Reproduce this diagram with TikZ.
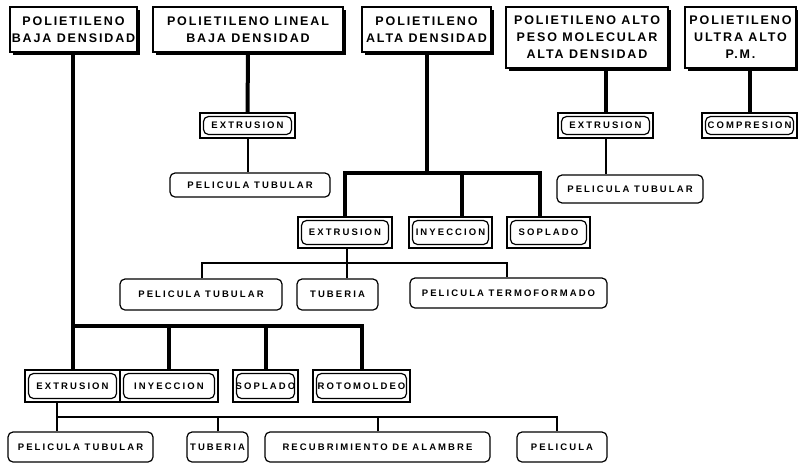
\documentclass[tikz,border=0pt]{standalone}
\usepackage{fontspec}
\usetikzlibrary{shapes,shadows,positioning}
\newfontfamily\headfont[LetterSpace=15]{Liberation Sans}
\newfontfamily\procfont[LetterSpace=22]{Liberation Sans}

\begin{document}
\begin{tikzpicture}[x=1pt, y=-1pt]
	\tikzstyle{resin} = [rectangle, draw, line width=1.2pt, fill=white, inner xsep=0pt, inner ysep=2pt, align=center, font=\headfont\bfseries\fontsize{12.5}{17}\selectfont, drop shadow={shadow xshift=3pt, shadow yshift=-3pt, opacity=1, fill=black}]
	\tikzstyle{proc} = [rectangle, draw, line width=1.2pt, inner sep=1pt, font=\procfont\bfseries\fontsize{9.5}{11}\selectfont, path picture={\draw[line width=1.2pt, rounded corners=5pt] ([shift={(3.5pt,3.5pt)}]path picture bounding box.south west) rectangle ([shift={(-3.5pt,-3.5pt)}]path picture bounding box.north east);}]
	\tikzstyle{prod} = [rectangle, draw, line width=1.2pt, rounded corners=5pt, inner sep=1pt, font=\procfont\bfseries\fontsize{9.5}{11}\selectfont]
	\tikzstyle{trunk} = [line width=4pt]
	\tikzstyle{branch} = [line width=2pt]
	\useasboundingbox (0,0) rectangle (798,464);
	
	\node[resin, minimum width=127, minimum height=45] (LDPE) at (73.5, 29.5) {POLIETILENO\\BAJA DENSIDAD};
	\node[resin, minimum width=190, minimum height=45] (LLDPE) at (248, 29.5) {POLIETILENO LINEAL\\BAJA DENSIDAD};
	\node[resin, minimum width=129, minimum height=45] (HDPE) at (426.5, 29.5) {POLIETILENO\\ALTA DENSIDAD};
	\node[resin, minimum width=162, minimum height=61] (HMW) at (587, 37.5) {POLIETILENO ALTO\\PESO MOLECULAR\\ALTA DENSIDAD};
	\node[resin, minimum width=111, minimum height=61] (UHMW) at (740.5, 37.5) {POLIETILENO\\ULTRA ALTO\\P.M.};
	
	\node[proc, minimum width=95, minimum height=25] (E2) at (247.5, 125.5) {EXTRUSION};
	\node[prod, minimum width=160, minimum height=24] (E2PT) at (250, 185) {PELICULA TUBULAR};
	
	\node[proc, minimum width=95, minimum height=25] (E4) at (605.5, 125.5) {EXTRUSION};
	\node[prod, minimum width=146, minimum height=28] (E4PT) at (630, 189) {PELICULA TUBULAR};
	\node[proc, minimum width=95, minimum height=25] (C5) at (749.5, 125.5) {COMPRESION};
	
	\node[proc, minimum width=94, minimum height=31] (E3) at (345, 232.5) {EXTRUSION};
	\node[proc, minimum width=83, minimum height=31] (I3) at (450.5, 232.5) {INYECCION};
	\node[proc, minimum width=83, minimum height=31] (S3) at (548.5, 232.5) {SOPLADO};
	\node[prod, minimum width=162, minimum height=31] (E3PT) at (201, 294.5) {PELICULA TUBULAR};
	\node[prod, minimum width=81, minimum height=31] (E3TU) at (337.5, 294.5) {TUBERIA};
	\node[prod, minimum width=197, minimum height=30] (E3TF) at (508.5, 293) {PELICULA TERMOFORMADO};
	
	\node[proc, minimum width=95, minimum height=32] (E1) at (72.5, 386) {EXTRUSION};
	\node[proc, minimum width=98, minimum height=32] (I1) at (169, 386) {INYECCION};
	\node[proc, minimum width=65, minimum height=32] (S1) at (265.5, 386) {SOPLADO};
	\node[proc, minimum width=97, minimum height=32] (R1) at (361.5, 386) {ROTOMOLDEO};
	\node[prod, minimum width=145, minimum height=30] (E1PT) at (80.5, 447) {PELICULA TUBULAR};
	\node[prod, minimum width=61, minimum height=30] (E1TU) at (217.5, 447) {TUBERIA};
	\node[prod, minimum width=225, minimum height=30] (E1RA) at (377.5, 447) {RECUBRIMIENTO DE ALAMBRE};
	\node[prod, minimum width=90, minimum height=30] (E1PE) at (562, 447) {PELICULA};
	
	\coordinate (busA) at (72.5, 326);
	\coordinate (busB) at (345, 173);
	\coordinate (busBI) at (462, 173);
	\coordinate (busBS) at (540, 173);
	\coordinate (busC) at (202, 263);
	\coordinate (busCT) at (347, 263);
	\coordinate (busCF) at (507, 263);
	\coordinate (busD) at (57, 417);
	\coordinate (busDP) at (557, 417);
	
	\draw[trunk] (E1.north) -- (E1.north |- LDPE.south);
	\draw[trunk] (busA) -| (R1.north);
	\draw[trunk] (I1.north) -- (I1.north |- busA);
	\draw[trunk] (S1.north) -- (S1.north |- busA);
	
	\draw[trunk] (LLDPE.south) -- (E2.north);
	\draw[branch] (E2.south) -- (E2.south |- E2PT.north);
	
	\draw[trunk] (HDPE.south) -- (HDPE.south |- busB);
	\draw[trunk] (E3.north) -- (busB) -- (busBS) -- (busBS |- S3.north);
	\draw[trunk] (busBI) -- (busBI |- I3.north);
	\draw[branch] (busCT |- E3.south) -- (busCT |- E3TU.north);
	\draw[branch] (busC |- E3PT.north) -- (busC) -- (busCF) -- (busCF |- E3TF.north);
	
	\draw[trunk] (E4.north) -- (E4.north |- HMW.south);
	\draw[branch] (E4.south) -- (E4.south |- E4PT.north);
	\draw[trunk] (C5.north) -- (C5.north |- UHMW.south);
	
	\draw[branch] (busD |- E1.south) -- (busD) -- (busDP) -- (busDP |- E1PE.north);
	\draw[branch] (busD) -- (busD |- E1PT.north);
	\draw[branch] (E1TU.north) -- (E1TU.north |- busD);
	\draw[branch] (E1RA.north) -- (E1RA.north |- busD);
\end{tikzpicture}
\end{document}
